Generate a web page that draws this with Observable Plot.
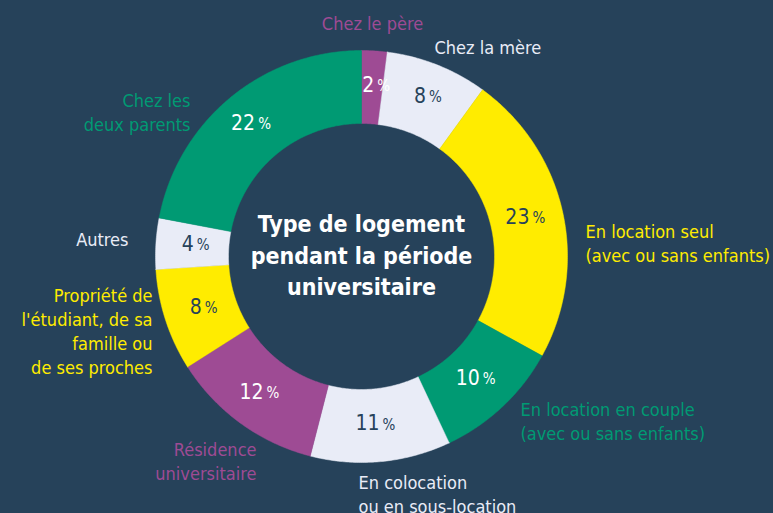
<!DOCTYPE html>
<html><head><meta charset="utf-8">
<script src="https://cdn.jsdelivr.net/npm/d3@7"></script>
<script src="https://cdn.jsdelivr.net/npm/@observablehq/plot@0.6"></script>
<style>
html,body{margin:0;padding:0;background:#26425A;overflow:hidden}
#chart svg{display:block}
</style>
</head><body><div id="chart"></div>
<script>
// ---- data ----
const categories = [
  "Chez le père",
  "Chez la mère",
  "En location seul (avec ou sans enfants)",
  "En location en couple (avec ou sans enfants)",
  "En colocation ou en sous-location",
  "Résidence universitaire",
  "Propriété de l'étudiant, de sa famille ou de ses proches",
  "Autres",
  "Chez les deux parents"
];
const values = [2, 8, 23, 10, 11, 12, 8, 4, 22];
const labelTexts = [
  "Chez le père",
  "Chez la mère",
  "En location seul\n(avec ou sans enfants)",
  "En location en couple\n(avec ou sans enfants)",
  "En colocation\nou en sous-location",
  "Résidence\nuniversitaire",
  "Propriété de\nl'étudiant, de sa\nfamille ou\nde ses proches",
  "Autres",
  "Chez les\ndeux parents"
];
const titleText = "Type de logement\npendant la période\nuniversitaire";

// ---- styles / layout ----
const BG = "#26425A";
const PURPLE = "#9E4B94", LIGHT = "#E9ECF7", YELLOW = "#FFEC00", GREEN = "#009A73";
const sliceColors = [PURPLE, LIGHT, YELLOW, GREEN, LIGHT, PURPLE, YELLOW, LIGHT, GREEN];
const labelColors = [PURPLE, LIGHT, YELLOW, GREEN, LIGHT, PURPLE, YELLOW, LIGHT, GREEN];
const pctColors = ["#ffffff", BG, BG, "#ffffff", BG, "#ffffff", BG, BG, "#ffffff"];
const labelLayout = [
  {x: 372, y: 22, anchor: "middle"},
  {x: 434, y: 46, anchor: "start"},
  {x: 585, y: 242, anchor: "start"},
  {x: 520, y: 420, anchor: "start"},
  {x: 358, y: 493, anchor: "start"},
  {x: 256, y: 460, anchor: "end"},
  {x: 152, y: 330, anchor: "end"},
  {x: 128, y: 238, anchor: "end"},
  {x: 190, y: 111, anchor: "end"}
];
const W = 773, H = 513, CX = 361, CY = 256, R_IN = 133, R_OUT = 206, R_LAB = 170;
const FONT = "'Liberation Sans Narrow','DejaVu Sans Condensed',sans-serif";

const rows = categories.map((c, i) => ({cat: c, value: values[i], i}));
const arcs = d3.pie().sort(null).value(d => d.value)(rows);

// polygon outline of each ring segment (geometry derived from pie angles)
const pts = [];
for (const a of arcs) {
  const n = Math.max(2, Math.ceil((a.endAngle - a.startAngle) / 0.01) + 1);
  const ring = [];
  for (let k = 0; k < n; k++) {
    const t = a.startAngle + (a.endAngle - a.startAngle) * k / (n - 1);
    ring.push([R_OUT * Math.sin(t), -R_OUT * Math.cos(t)]);
  }
  for (let k = n - 1; k >= 0; k--) {
    const t = a.startAngle + (a.endAngle - a.startAngle) * k / (n - 1);
    ring.push([R_IN * Math.sin(t), -R_IN * Math.cos(t)]);
  }
  ring.push(ring[0]);
  for (const [x, y] of ring) pts.push({cat: a.data.cat, x, y});
}

const pct = arcs.map(a => {
  const m = (a.startAngle + a.endAngle) / 2;
  return {
    num: String(a.data.value),
    x: R_LAB * Math.sin(m),
    y: -R_LAB * Math.cos(m),
    color: pctColors[a.data.i]
  };
});

const labs = labelTexts.map((t, i) => ({
  text: t, x: labelLayout[i].x - CX, y: labelLayout[i].y - CY,
  anchor: labelLayout[i].anchor, color: labelColors[i]
}));

const labelMarks = ["start", "middle", "end"].map(anc =>
  Plot.text(labs.filter(d => d.anchor === anc), {
    x: "x", y: "y", text: "text", fill: d => d.color, textAnchor: anc,
    fontSize: 18, lineHeight: 1.33, fontFamily: FONT
  })
);

const chart = Plot.plot({
  width: W, height: H,
  margin: 0,
  style: {background: BG, fontFamily: FONT},
  x: {domain: [-CX, W - CX], range: [0, W], axis: null},
  y: {domain: [-CY, H - CY], range: [0, H], axis: null},
  color: {domain: categories, range: sliceColors},
  marks: [
    Plot.line(pts, {x: "x", y: "y", z: "cat", fill: "cat", stroke: "cat", strokeWidth: 0.5, curve: "linear"}),
    Plot.text(pct, {x: "x", y: "y", text: "num", fill: d => d.color, textAnchor: "end", dx: 2, dy: -2, fontSize: 21, fontFamily: FONT}),
    Plot.text(pct, {x: "x", y: "y", text: () => "%", fill: d => d.color, textAnchor: "start", dx: 5, dy: -1, fontSize: 15, fontFamily: FONT}),
    ...labelMarks,
    Plot.text([titleText], {x: () => 0, y: () => -3, text: d => d, fill: "#ffffff", fontWeight: "bold", fontSize: 23, lineHeight: 1.37, fontFamily: FONT})
  ]
});
document.getElementById("chart").appendChild(chart);
</script>
</body></html>
